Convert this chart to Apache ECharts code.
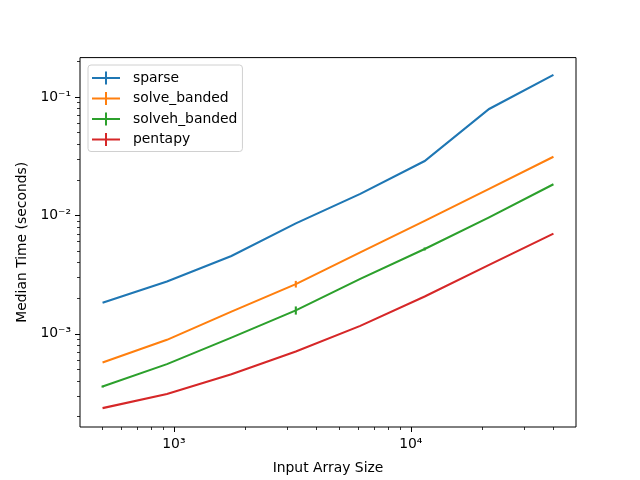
<!DOCTYPE html>
<html>
<head>
<meta charset="utf-8">
<script src="https://cdn.jsdelivr.net/npm/echarts@6/dist/echarts.min.js"></script>
<style>
  html, body { margin: 0; padding: 0; background: #fff; }
  #chart { width: 640px; height: 480px; }
</style>
</head>
<body>
<div id="chart"></div>
<script>
// input sizes (x) and median times in seconds (y)
const sizes = [500, 935, 1749, 3271, 6118, 11443, 21403, 40000]
const sparse = [1.83e-3, 2.77e-3, 4.55e-3, 8.56e-3, 1.52e-2, 2.88e-2, 7.92e-2, 0.1535]
const solveBanded = [5.73e-4, 8.90e-4, 1.54e-3, 2.63e-3, 4.88e-3, 8.99e-3, 1.675e-2, 3.13e-2]
const solvehBanded = [3.59e-4, 5.55e-4, 9.29e-4, 1.579e-3, 2.91e-3, 5.21e-3, 9.62e-3, 1.834e-2]
const pentapy = [2.36e-4, 3.10e-4, 4.57e-4, 7.10e-4, 1.168e-3, 2.065e-3, 3.82e-3, 7.02e-3]

// error bar half widths (seconds)
const sparseErr = [0, 0, 0, 0, 0, 0, 0, 0]
const solveBandedErr = [0, 0, 0, 1.7e-4, 0, 0, 0, 0]
const solvehBandedErr = [7e-6, 0, 0, 1.25e-4, 0, 1.5e-4, 0, 0]
const pentapyErr = [0, 0, 0, 0, 0, 0, 0, 0]

const names = ['sparse', 'solve_banded', 'solveh_banded', 'pentapy']
const colors = ['#1f77b4', '#ff7f0e', '#2ca02c', '#d62728']
const values = [sparse, solveBanded, solvehBanded, pentapy]
const errs = [sparseErr, solveBandedErr, solvehBandedErr, pentapyErr]

const xMajor = [3, 4]
const yMajor = [-3, -2, -1]
const xRange = [2.6038, 4.6972]
const yRange = [-3.7865, -0.6675]

const font = 'DejaVu Sans'
const sup = { '-': '⁻', '0': '⁰', '1': '¹', '2': '²', '3': '³', '4': '⁴', '5': '⁵' }
function powLabel(v) {
  let e = String(Math.round(v)).split('').map(c => sup[c]).join('')
  return '10' + e
}

// minor tick positions (2..9 x 10^d) on the log10 scale
function minorTicks(range) {
  let out = []
  for (let d = Math.floor(range[0]) - 1; d <= Math.ceil(range[1]); d++) {
    for (let k = 2; k <= 9; k++) {
      let v = d + Math.log10(k)
      if (v >= range[0] && v <= range[1]) out.push(v)
    }
  }
  return out
}

const lg = Math.log10
const icon = 'path://M0,5.5h28v2h-28z M13,0h2v13h-2z'

let series = []
names.forEach((name, i) => {
  series.push({
    name: name,
    type: 'line',
    xAxisIndex: 0,
    yAxisIndex: 0,
    data: sizes.map((s, j) => [lg(s), lg(values[i][j])]),
    showSymbol: false,
    symbol: 'none',
    color: colors[i],
    lineStyle: { width: 2.1, color: colors[i], cap: 'butt', join: 'miter' },
    z: 3
  })
  series.push({
    name: name,
    type: 'custom',
    xAxisIndex: 0,
    yAxisIndex: 0,
    data: sizes.map((s, j) => [lg(s), lg(values[i][j] - errs[i][j]), lg(values[i][j] + errs[i][j])]),
    renderItem: function(params, api) {
      let p1 = api.coord([api.value(0), api.value(1)])
      let p2 = api.coord([api.value(0), api.value(2)])
      if (Math.abs(p1[1] - p2[1]) < 0.5) return null
      return {
        type: 'line',
        shape: { x1: p1[0], y1: p1[1], x2: p2[0], y2: p2[1] },
        style: { stroke: colors[i], lineWidth: 2.1 }
      }
    },
    z: 4
  })
})

const axisBase = {
  type: 'value',
  splitLine: { show: false },
  axisLine: { show: false }
}

let option = {
  animation: false,
  backgroundColor: '#fff',
  textStyle: { fontFamily: font },
  grid: {
    left: 80, right: 64, top: 57.6, bottom: 52.8,
    show: true, borderColor: '#000', borderWidth: 1, backgroundColor: 'transparent'
  },
  legend: {
    orient: 'vertical',
    left: 88, top: 65,
    padding: [6, 5, 5, 4],
    itemWidth: 28,
    itemHeight: 13,
    itemGap: 6.5,
    backgroundColor: '#fff',
    borderColor: '#d0d0d0',
    borderWidth: 1,
    borderRadius: 3,
    textStyle: { fontFamily: font, fontSize: 13.9, color: '#000', padding: [0, 0, 0, 8] },
    data: names.map(n => ({ name: n, icon: icon }))
  },
  xAxis: [
    Object.assign({}, axisBase, {
      min: xRange[0], max: xRange[1],
      name: 'Input Array Size',
      nameLocation: 'middle',
      nameGap: 34,
      nameTextStyle: { fontFamily: font, fontSize: 13.9, color: '#000' },
      axisTick: { show: true, customValues: xMajor, length: 5, lineStyle: { color: '#000', width: 1 } },
      axisLabel: {
        customValues: xMajor, margin: 10, fontFamily: font, fontSize: 13.9, color: '#000',
        formatter: v => powLabel(v)
      }
    }),
    Object.assign({}, axisBase, {
      min: xRange[0], max: xRange[1],
      position: 'bottom', offset: 0,
      axisTick: { show: true, customValues: minorTicks(xRange), length: 3, lineStyle: { color: '#000', width: 0.8 } },
      axisLabel: { show: false }
    })
  ],
  yAxis: [
    Object.assign({}, axisBase, {
      min: yRange[0], max: yRange[1],
      name: 'Median Time (seconds)',
      nameLocation: 'middle',
      nameGap: 48,
      nameTextStyle: { fontFamily: font, fontSize: 13.9, color: '#000' },
      axisTick: { show: true, customValues: yMajor, length: 5, lineStyle: { color: '#000', width: 1 } },
      axisLabel: {
        customValues: yMajor, margin: 9, fontFamily: font, fontSize: 13.9, color: '#000',
        formatter: v => powLabel(v)
      }
    }),
    Object.assign({}, axisBase, {
      min: yRange[0], max: yRange[1],
      position: 'left', offset: 0,
      axisTick: { show: true, customValues: minorTicks(yRange), length: 3, lineStyle: { color: '#000', width: 0.8 } },
      axisLabel: { show: false }
    })
  ],
  series: series
}

const chart = echarts.init(document.getElementById('chart'))
chart.setOption(option)
</script>
</body>
</html>
